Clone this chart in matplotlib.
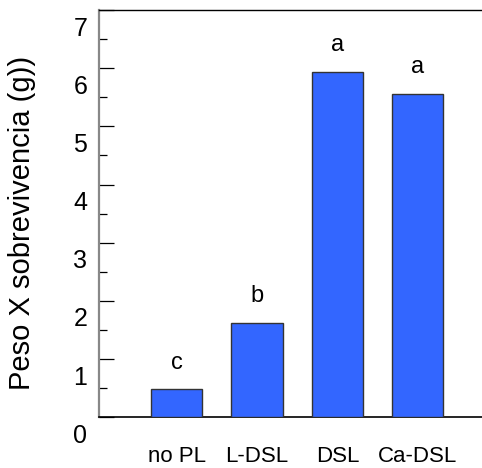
import matplotlib
matplotlib.use("Agg")
import matplotlib.pyplot as plt
from matplotlib.transforms import ScaledTranslation
import numpy as np

plt.rcParams['font.family'] = ['Liberation Sans', 'DejaVu Sans']

categories = ["no PL", "L-DSL", "DSL", "Ca-DSL"]
values = [0.48, 1.62, 5.93, 5.56]
letters = ["c", "b", "a", "a"]
ytick_labels = ["0", "1", "2", "3", "4", "5", "6", "7"]

fig = plt.figure(figsize=(4.82, 4.68), dpi=100)
ax = fig.add_axes([99/482, 1 - 417.3/468, 1 - 99/482, (417.3 - 10)/468])

x = np.arange(len(categories))
ax.bar(x, values, width=0.641, color="#3366FF", edgecolor="#333333", linewidth=1.0, zorder=3)

for xi, v, l in zip(x, values, letters):
    ax.annotate(l, (xi, v), xytext=(0, 15), textcoords="offset points",
                ha="center", va="baseline", fontsize=17)

ax.set_xlim(-0.9676, 3.80)
ax.set_ylim(0, 7)

ax.set_yticks(range(8))
ax.set_yticklabels(ytick_labels, fontsize=18)
ax.set_yticks(np.arange(0.5, 7, 1.0), minor=True)
ax.tick_params(axis="y", which="major", direction="in", length=11, width=0.9, pad=8.5, color="black")
ax.tick_params(axis="y", which="minor", direction="in", length=5.8, width=0.9, color="black")

ax.set_xticks(x)
ax.set_xticklabels(categories, fontsize=16)
ax.tick_params(axis="x", which="both", length=0, pad=20.5)

off = ScaledTranslation(0, -0.16, fig.dpi_scale_trans)
for lab in ax.get_yticklabels():
    lab.set_transform(lab.get_transform() + off)

ax.spines["left"].set_color("#888888")
ax.spines["left"].set_linewidth(1.6)
ax.spines["bottom"].set_color("black")
ax.spines["bottom"].set_linewidth(1.2)
ax.spines["top"].set_color("black")
ax.spines["top"].set_linewidth(1.0)
ax.spines["right"].set_visible(False)

fig.text(22/482, 1 - 222.5/468, "Peso X sobrevivencia (g))", rotation=90,
         ha="center", va="center", fontsize=21)

fig.savefig("out.png", dpi=100)
